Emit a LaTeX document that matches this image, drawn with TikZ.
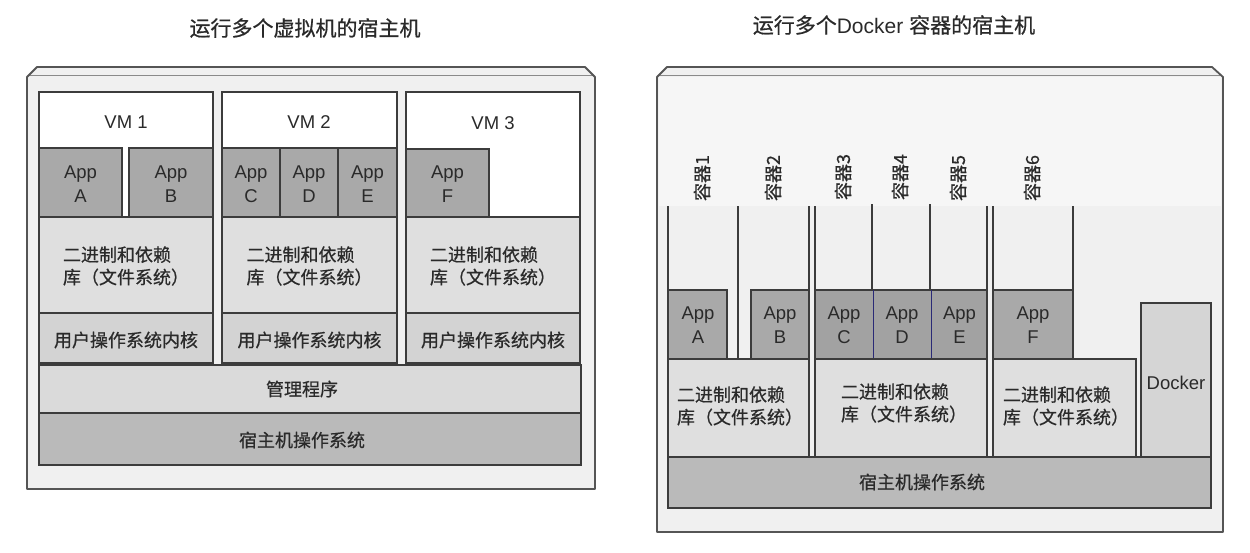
\documentclass[tikz,border=0pt]{standalone}
\usepackage{fontspec}
\setmainfont{Liberation Sans}
\newfontfamily\cjk[FakeBold=0.6]{Noto Sans CJK SC}
\definecolor{linec}{HTML}{3C3C3C}
\definecolor{txt}{HTML}{2A2A2A}
\definecolor{panelbg}{HTML}{F0F0F0}
\definecolor{paneltop}{HTML}{F6F6F6}
\definecolor{appc}{HTML}{A9A9A9}
\definecolor{appd}{HTML}{A2A2A2}
\definecolor{binc}{HTML}{DFDFDF}
\definecolor{kernc}{HTML}{D3D3D3}
\definecolor{hypc}{HTML}{DADADA}
\definecolor{hostc}{HTML}{BABABA}
\definecolor{dockc}{HTML}{D5D5D5}
\definecolor{framec}{HTML}{555555}
\definecolor{framein}{HTML}{8A8A8A}
\begin{document}
\begin{tikzpicture}[x=1pt,y=-1pt,
  box/.style={draw=linec, line width=1.4pt},
  frameline/.style={draw=framec, line width=1.8pt, line join=round},
  lidline/.style={draw=framein, line width=1pt},
  cline/.style={draw=linec, line width=1.4pt},
  divline/.style={draw=linec!70!blue, line width=0.8pt},
  lat/.style={text=txt, font=\fontsize{18.5}{24}\selectfont, align=center, inner sep=0pt},
  zh/.style={text=txt, font=\cjk\fontsize{18}{22.5}\selectfont, inner sep=0pt},
  zhblock/.style={zh, align=left},
  title/.style={text=txt, font=\fontsize{21}{24}\selectfont, inner sep=0pt},
  vlabel/.style={zh, rotate=90}
]
\useasboundingbox (0,0) rectangle (1250,552);
\fill[white] (0,0) rectangle (1250,552);

% ---------- titles ----------
\node[title] (t1) at (305,28) {\cjk 运行多个虚拟机的宿主机};
\node[title] (t2) at (894,25) {{\cjk 运行多个}Docker {\cjk 容器的宿主机}};

% ---------- left panel frame ----------
\path[fill=panelbg] (27,489) -- (27,77) -- (37,67) -- (585,67) -- (595,77) -- (595,489) -- cycle;
\draw[lidline] (28,75) -- (594,75);
\draw[frameline] (27,489) -- (27,77) -- (37,67) -- (585,67) -- (595,77) -- (595,489) -- cycle;

% VM boxes
\foreach \l/\r in {39/213, 222/397, 406/580}{
  \draw[box, fill=white] (\l,92) rectangle (\r,363);
  \draw[box, fill=binc] (\l,217) rectangle (\r,313);
  \draw[box, fill=kernc] (\l,313) rectangle (\r,363);
}
% apps left
\draw[box, fill=appc] (39,148) rectangle (122,217);
\draw[box, fill=appc] (129,148) rectangle (213,217);
\draw[box, fill=appc] (222,148) rectangle (280,217);
\draw[box, fill=appc] (280,148) rectangle (338,217);
\draw[box, fill=appc] (338,148) rectangle (397,217);
\draw[box, fill=appc] (406,149) rectangle (489,217);

% hypervisor & host
\draw[box, fill=hypc] (39,365) rectangle (581,413);
\draw[box, fill=hostc] (39,413) rectangle (581,465);

% left labels
\node[lat] (vm1) at (126,122) {VM 1};
\node[lat] (vm2) at (309,122) {VM 2};
\node[lat] (vm3) at (493,123) {VM 3};
\node[lat] (la) at (80.5,184) {App\\A};
\node[lat] (lb) at (171,184) {App\\B};
\node[lat] (lc) at (251,184) {App\\C};
\node[lat] (ld) at (309,184) {App\\D};
\node[lat] (le) at (367.5,184) {App\\E};
\node[lat] (lf) at (447.5,184) {App\\F};
\node[zhblock] (b1) at (126,266) {二进制和依赖\\库（文件系统）};
\node[zhblock] (b2) at (309.5,266) {二进制和依赖\\库（文件系统）};
\node[zhblock] (b3) at (493,266) {二进制和依赖\\库（文件系统）};
\node[zh] (k1) at (126,340) {用户操作系统内核};
\node[zh] (k2) at (309.5,340) {用户操作系统内核};
\node[zh] (k3) at (493,340) {用户操作系统内核};
\node[zh] (hyp) at (302,389) {管理程序};
\node[zh] (host1) at (302,440) {宿主机操作系统};

% ---------- right panel frame ----------
\path[fill=panelbg] (657,532) -- (657,77) -- (667,67) -- (1212,67) -- (1223,77) -- (1223,532) -- cycle;
\path[fill=paneltop] (659,77) rectangle (1221,206);
\draw[lidline] (658,75) -- (1222,75);
\draw[frameline] (657,532) -- (657,77) -- (667,67) -- (1212,67) -- (1223,77) -- (1223,532) -- cycle;

% container lines
\draw[cline] (668,206) -- (668,290);
\draw[cline] (738,206) -- (738,359);
\draw[cline] (809,206) -- (809,457);
\draw[cline] (815,206) -- (815,457);
\draw[cline] (872,204) -- (872,290);
\draw[cline] (930,204) -- (930,290);
\draw[cline] (987,206) -- (987,457);
\draw[cline] (993,206) -- (993,457);
\draw[cline] (1073,206) -- (1073,290);

% apps right
\draw[box, fill=appc] (668,290) rectangle (727,359);
\draw[box, fill=appc] (751,290) rectangle (809,359);
\draw[box, fill=appd] (815,290) rectangle (987,359);
\draw[divline] (873,290) -- (873,359);
\draw[divline] (931,290) -- (931,359);
\draw[box, fill=appc] (993,290) rectangle (1073,359);

% binaries right
\draw[box, fill=binc] (668,359) rectangle (809,457);
\draw[box, fill=binc] (815,359) rectangle (987,457);
\draw[box, fill=binc] (993,359) rectangle (1136,457);
\draw[box, fill=dockc] (1141,303) rectangle (1211,457);
\draw[box, fill=hostc] (668,457) rectangle (1211,508);

% right labels
\node[vlabel] (c1) at (702,178) {容器1};
\node[vlabel] (c2) at (773,178) {容器2};
\node[vlabel] (c3) at (843,177) {容器3};
\node[vlabel] (c4) at (900,177) {容器4};
\node[vlabel] (c5) at (958,178) {容器5};
\node[vlabel] (c6) at (1032,178) {容器6};
\node[lat] (ra) at (698,325) {App\\A};
\node[lat] (rb) at (780,325) {App\\B};
\node[lat] (rc) at (844,325) {App\\C};
\node[lat] (rd) at (902,325) {App\\D};
\node[lat] (re) at (959.5,325) {App\\E};
\node[lat] (rf) at (1033,325) {App\\F};
\node[zhblock] (rb1) at (740,406) {二进制和依赖\\库（文件系统）};
\node[zhblock] (rb2) at (904,403) {二进制和依赖\\库（文件系统）};
\node[zhblock] (rb3) at (1066,406) {二进制和依赖\\库（文件系统）};
\node[lat] (dock) at (1176,383) {Docker};
\node[zh] (host2) at (922,482) {宿主机操作系统};
\end{tikzpicture}
\end{document}
